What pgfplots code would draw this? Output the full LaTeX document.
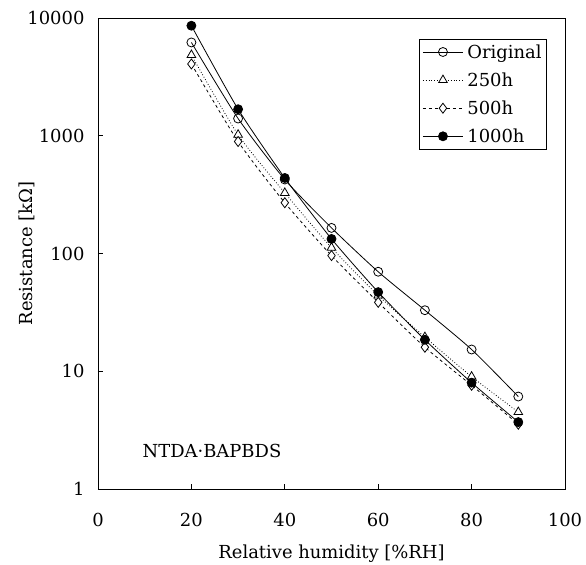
\documentclass[border=0pt]{standalone}
\usepackage{fontspec}
\setmainfont{DejaVu Serif}
\usepackage{pgfplots}
\pgfplotsset{compat=1.18}
\begin{document}
\begin{tikzpicture}
\begin{axis}[
  scale only axis, width=467bp, height=471bp,
  xmin=0, xmax=100, ymin=1, ymax=10000, ymode=log,
  xtick={0,20,40,60,80,100},
  ytick={1,10,100,1000,10000},
  yticklabels={1,10,100,1000,10000},
  yminorticks=false,
  /pgf/number format/assume math mode=true,
  tick align=inside, tick pos=left,
  major tick length=5bp,
  axis line style={line width=0.7pt},
  tick style={line width=0.7pt, black},
  tick label style={font=\fontsize{18}{20}\selectfont},
  xticklabel style={yshift=-21bp},
  yticklabel style={xshift=-10bp},
  label style={font=\fontsize{18}{20}\selectfont},
  xlabel={Relative humidity [\%RH]},
  ylabel={Resistance [kΩ]},
  xlabel style={yshift=-11bp},
  ylabel style={yshift=-14bp},
  legend style={at={(0.961,0.955)}, anchor=north east, font=\fontsize{18}{20}\selectfont,
    draw=black, line width=0.5pt, inner sep=3bp, row sep=9bp, cells={anchor=west}},
  legend image code/.code={\draw[#1] (0bp,0bp) -- (40bp,0bp); \draw[#1, solid] plot coordinates {(20bp,0bp)};},
  every axis plot/.append style={line width=0.8pt, black, smooth, tension=0.4},
]
\addplot[mark=o, mark size=4.5bp, mark options={solid, fill=white}] coordinates {
 (20,6200) (30,1400) (40,425) (50,165) (60,70) (70,33) (80,15.3) (90,6.1)};
\addlegendentry{\hspace{2bp}Original}
\addplot[dotted, mark=triangle*, mark size=5bp, mark options={solid, fill=white}] coordinates {
 (20,4850) (30,1020) (40,327) (50,112) (60,44) (70,19.5) (80,9.0) (90,4.5)};
\addlegendentry{\hspace{2bp}250h}
\addplot[dashed, mark=diamond*, mark size=5bp, mark options={solid, fill=white}] coordinates {
 (20,4070) (30,893) (40,270) (50,96) (60,38.5) (70,16) (80,7.6) (90,3.55)};
\addlegendentry{\hspace{2bp}500h}
\addplot[mark=*, mark size=4.5bp, mark options={solid, fill=black}] coordinates {
 (20,8600) (30,1680) (40,438) (50,133) (60,47) (70,18.5) (80,8.0) (90,3.7)};
\addlegendentry{\hspace{2bp}1000h}
\node[anchor=west, font=\fontsize{18}{20}\selectfont] at (axis cs:8.8,2.1) {NTDA·BAPBDS};
\coordinate (bl) at (rel axis cs:0,0);
\coordinate (tr) at (rel axis cs:1,1);
\end{axis}
\pgfresetboundingbox
\path ([xshift=-98bp,yshift=-76bp]bl) rectangle ([xshift=21bp,yshift=18bp]tr);
\end{tikzpicture}
\end{document}
